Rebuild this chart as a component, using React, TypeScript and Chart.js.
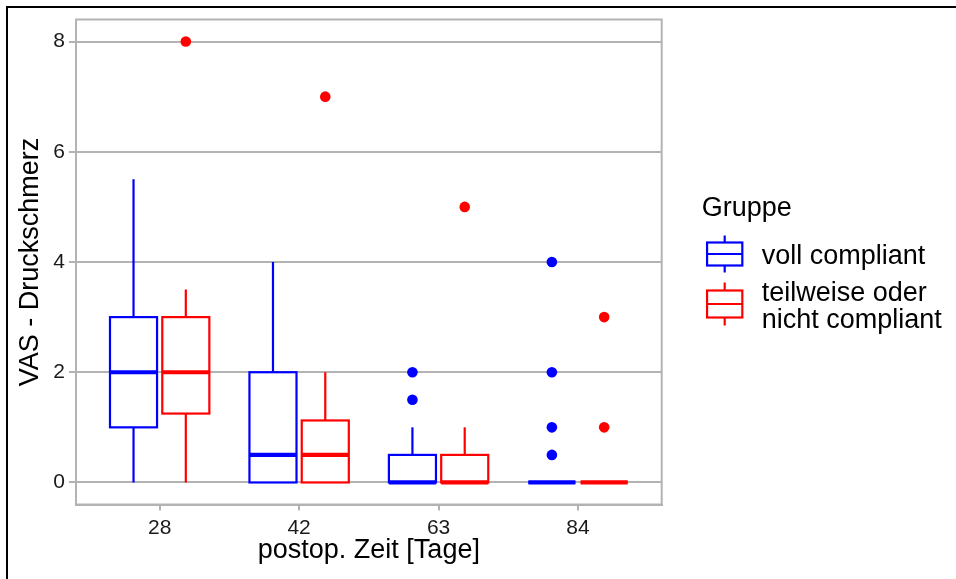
import React, { useEffect, useRef } from 'react';
import { Chart, registerables } from 'chart.js';

Chart.register(...registerables);

// ---- data ----
const categories = ['28', '42', '63', '84'];
const yTickValues = [0, 2, 4, 6, 8];
const legendTitle = 'Gruppe';
const xTitle = 'postop. Zeit [Tage]';
const yTitle = 'VAS - Druckschmerz';

const vollLabel = ['voll compliant'];
const vollMin = [0, 0, 0, 0];
const vollQ1 = [1, 0, 0, 0];
const vollMedian = [2, 0.5, 0, 0];
const vollQ3 = [3, 2, 0.5, 0];
const vollMax = [5.5, 4, 1, 0];
const vollOutliers = [[], [], [1.5, 2], [0.5, 1, 2, 4]];

const teilLabel = ['teilweise oder', 'nicht compliant'];
const teilMin = [0, 0, 0, 0];
const teilQ1 = [1.25, 0, 0, 0];
const teilMedian = [2, 0.5, 0, 0];
const teilQ3 = [3, 1.125, 0.5, 0];
const teilMax = [3.5, 2, 1, 0];
const teilOutliers = [[8], [7], [5], [1, 3]];

const FONT = "'Liberation Sans', Arial, sans-serif";
const GREY = '#b3b3b3';
const DODGE = 0.1875;
const BOX_W = 0.3375;

const groups = [
  { label: vollLabel, color: '#0000ff', offset: -DODGE, min: vollMin, q1: vollQ1, med: vollMedian, q3: vollQ3, max: vollMax, out: vollOutliers },
  { label: teilLabel, color: '#ff0000', offset: DODGE, min: teilMin, q1: teilQ1, med: teilMedian, q3: teilQ3, max: teilMax, out: teilOutliers },
];

const boxPlugin = {
  id: 'boxplots',
  beforeDatasetsDraw(chart: any) {
    const { ctx } = chart;
    const x = chart.scales.x;
    const y = chart.scales.y;
    ctx.save();
    categories.forEach((_c, i) => {
      groups.forEach((g) => {
        const pos = i + 1 + g.offset;
        const cx = x.getPixelForValue(pos);
        const l = x.getPixelForValue(pos - BOX_W / 2);
        const r = x.getPixelForValue(pos + BOX_W / 2);
        const yMin = y.getPixelForValue(g.min[i]);
        const yQ1 = y.getPixelForValue(g.q1[i]);
        const yMed = y.getPixelForValue(g.med[i]);
        const yQ3 = y.getPixelForValue(g.q3[i]);
        const yMax = y.getPixelForValue(g.max[i]);
        ctx.strokeStyle = g.color;
        ctx.lineWidth = 2.2;
        ctx.lineCap = 'butt';
        ctx.beginPath();
        ctx.moveTo(cx, yQ3);
        ctx.lineTo(cx, yMax);
        ctx.moveTo(cx, yQ1);
        ctx.lineTo(cx, yMin);
        ctx.stroke();
        ctx.fillStyle = '#ffffff';
        ctx.fillRect(l, yQ3, r - l, yQ1 - yQ3);
        ctx.strokeRect(l, yQ3, r - l, yQ1 - yQ3);
        ctx.lineWidth = 4.2;
        ctx.beginPath();
        ctx.moveTo(l, yMed);
        ctx.lineTo(r, yMed);
        ctx.stroke();
      });
    });
    ctx.restore();
  },
  afterDatasetsDraw(chart: any) {
    const { ctx, chartArea } = chart;
    ctx.save();
    ctx.strokeStyle = GREY;
    ctx.lineWidth = 2;
    ctx.strokeRect(chartArea.left, chartArea.top, chartArea.right - chartArea.left, chartArea.bottom - chartArea.top);
    ctx.restore();
  },
  afterDraw(chart: any) {
    const { ctx, chartArea } = chart;
    const lx = chartArea.right + 39.5;
    ctx.save();
    ctx.fillStyle = '#000000';
    ctx.font = `27px ${FONT}`;
    ctx.textBaseline = 'middle';
    ctx.textAlign = 'left';
    ctx.fillText(legendTitle, lx + 0.5, 209);
    let top = 231;
    const keyW = 47;
    const lineGap = 27;
    groups.forEach((g) => {
      const h = Math.max(46, g.label.length * 27);
      const cxk = lx + keyW / 2;
      const bl = lx + keyW * 0.125;
      const br = lx + keyW * 0.875;
      ctx.strokeStyle = g.color;
      ctx.lineWidth = 2.2;
      ctx.beginPath();
      ctx.moveTo(cxk, top + h * 0.1);
      ctx.lineTo(cxk, top + h * 0.25);
      ctx.moveTo(cxk, top + h * 0.75);
      ctx.lineTo(cxk, top + h * 0.9);
      ctx.stroke();
      ctx.strokeRect(bl, top + h * 0.25, br - bl, h * 0.5);
      ctx.beginPath();
      ctx.moveTo(bl, top + h * 0.5);
      ctx.lineTo(br, top + h * 0.5);
      ctx.stroke();
      const center = top + h / 2 + 3;
      ctx.fillStyle = '#000000';
      g.label.forEach((line, j) => {
        ctx.fillText(line, lx + 60.5, center + (j - (g.label.length - 1) / 2) * lineGap);
      });
      top += h;
    });
    ctx.restore();
  },
};

export default function App() {
  const ref = useRef<HTMLCanvasElement | null>(null);
  useEffect(() => {
    if (!ref.current) return;
    const datasets = groups.map((g) => ({
      label: g.label.join(' '),
      data: g.out.flatMap((vals, i) => vals.map((v) => ({ x: i + 1 + g.offset, y: v }))),
      backgroundColor: g.color,
      borderColor: g.color,
      borderWidth: 0,
      pointRadius: 5.3,
      pointHoverRadius: 5.3,
    }));
    const chart = new Chart(ref.current, {
      type: 'scatter',
      data: { datasets },
      options: {
        animation: false,
        responsive: false,
        devicePixelRatio: 1,
        layout: { padding: { left: 0, top: 19.5, right: 294.3, bottom: 0 } },
        plugins: { legend: { display: false }, tooltip: { enabled: false } },
        scales: {
          x: {
            type: 'linear',
            min: 0.4,
            max: 4.6,
            afterBuildTicks: (s: any) => { s.ticks = categories.map((_c, i) => ({ value: i + 1 })); },
            afterFit: (s: any) => { s.height = 74.5; },
            ticks: {
              callback: (v: any) => categories[Math.round(Number(v)) - 1],
              color: '#1a1a1a',
              font: { family: FONT, size: 21 },
              padding: 5,
              maxRotation: 0,
              autoSkip: false,
            },
            grid: { drawOnChartArea: false, drawTicks: true, tickLength: 6, color: GREY, lineWidth: 2 },
            border: { display: true, color: GREY, width: 2 },
            title: { display: true, text: xTitle, color: '#000', font: { family: FONT, size: 27 }, padding: { top: 0, bottom: 11.8 } },
          },
          y: {
            type: 'linear',
            min: -0.4,
            max: 8.4,
            afterBuildTicks: (s: any) => { s.ticks = yTickValues.map((v) => ({ value: v })); },
            afterFit: (s: any) => { s.width = 76; },
            ticks: {
              color: '#1a1a1a',
              font: { family: FONT, size: 21 },
              padding: 4,
              autoSkip: false,
            },
            grid: { drawOnChartArea: true, drawTicks: true, tickLength: 7, color: GREY, lineWidth: 2 },
            border: { display: true, color: GREY, width: 2 },
            title: { display: true, text: yTitle, color: '#000', font: { family: FONT, size: 27 }, padding: { top: 14, bottom: 0 } },
          },
        },
      },
      plugins: [boxPlugin],
    });
    return () => chart.destroy();
  }, []);
  return (
    <div style={{ position: 'fixed', left: 0, top: 0, width: 956, height: 579, background: '#fff' }}>
      <div style={{ position: 'absolute', left: 6, top: 6, width: 950, height: 573, borderTop: '2px solid #000', borderLeft: '2px solid #000', boxSizing: 'border-box' }} />
      <canvas ref={ref} width={956} height={579} style={{ position: 'absolute', left: 0, top: 0 }} />
    </div>
  );
}
